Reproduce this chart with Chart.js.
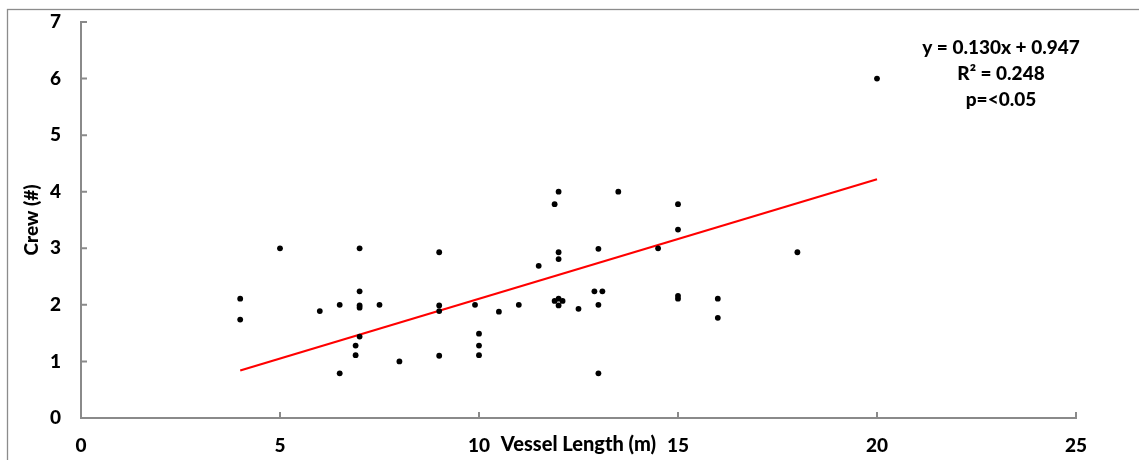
<!DOCTYPE html>
<html>
<head>
<meta charset="utf-8">
<script src="https://cdn.jsdelivr.net/npm/chart.js@4"></script>
<style>
  html, body { margin: 0; padding: 0; background: #fff; overflow: hidden; }
  #wrap { position: relative; width: 1139px; height: 460px; }
</style>
</head>
<body>
<div id="wrap"><canvas id="c" width="1139" height="460"></canvas></div>
<script>
// Vessel length (m)
const vesselLength = [
  4, 4, 5, 6, 6.5, 6.5, 6.9, 6.9, 7, 7, 7, 7, 7, 7.5, 8,
  9, 9, 9, 9, 9.9, 10, 10, 10, 10.5, 11, 11.5,
  11.9, 11.9, 12, 12, 12, 12, 12.1, 12, 12.5,
  12.9, 13.1, 13, 13, 13, 13.5, 14.5,
  15, 15, 15, 15, 16, 16, 18, 20
];
// Crew (#)
const crewCount = [
  2.11, 1.74, 3, 1.89, 2, 0.79, 1.28, 1.11, 3, 2.24, 1.99, 1.95, 1.44, 2, 1,
  2.93, 1.99, 1.89, 1.1, 2, 1.49, 1.28, 1.11, 1.88, 2, 2.69,
  3.78, 2.07, 4, 2.93, 2.81, 2.11, 2.07, 1.99, 1.93,
  2.24, 2.24, 2, 2.99, 0.79, 4, 3,
  3.78, 3.33, 2.16, 2.11, 2.11, 1.77, 2.93, 6
];
// Trendline as drawn
const trendX = [4, 20];
const trendY = [0.84, 4.22];

const xTickValues = [0, 5, 10, 15, 20, 25];
const yTickValues = [0, 1, 2, 3, 4, 5, 6, 7];
const annotationLines = ['y = 0.130x + 0.947', 'R\u00B2 = 0.248', 'p=<0.05'];

const FONT = 'Lato, Carlito, Calibri, sans-serif';
const WEIGHT = '900';
const AXIS_GREY = '#8a8a8a';

const scatterPoints = vesselLength.map((x, i) => ({ x: x, y: crewCount[i] }));
const trendPoints = trendX.map((x, i) => ({ x: x, y: trendY[i] }));

const frame = {
  id: 'frame',
  beforeDraw(chart) {
    const ctx = chart.ctx;
    ctx.save();
    ctx.strokeStyle = '#8c8c8c';
    ctx.lineWidth = 1.3;
    ctx.strokeRect(7.5, 9.5, 3000, 3000);
    ctx.restore();
  }
};

const innerTicks = {
  id: 'innerTicks',
  afterDraw(chart) {
    const ctx = chart.ctx;
    const xs = chart.scales.x, ys = chart.scales.y;
    const area = chart.chartArea;
    ctx.save();
    ctx.strokeStyle = AXIS_GREY;
    ctx.lineWidth = 2;
    ctx.beginPath();
    xTickValues.forEach(v => {
      if (v === 0) return;
      const px = xs.getPixelForValue(v);
      ctx.moveTo(px, area.bottom);
      ctx.lineTo(px, area.bottom - 6);
    });
    yTickValues.forEach(v => {
      if (v === 0) return;
      const py = ys.getPixelForValue(v);
      ctx.moveTo(area.left, py);
      ctx.lineTo(area.left + 6, py);
    });
    ctx.stroke();
    // annotation
    ctx.fillStyle = '#000';
    ctx.font = WEIGHT + ' 19px ' + FONT;
    ctx.textAlign = 'center';
    ctx.textBaseline = 'middle';
    annotationLines.forEach((t, i) => {
      ctx.fillText(t, 1001, 48 + i * 26);
    });
    ctx.restore();
  }
};

const tickFont = { family: FONT, size: 19, weight: WEIGHT };

new Chart(document.getElementById('c'), {
  type: 'scatter',
  data: {
    datasets: [
      {
        type: 'line',
        data: trendPoints,
        borderColor: '#ff0000',
        borderWidth: 2.2,
        pointRadius: 0,
        fill: false,
        order: 2
      },
      {
        data: scatterPoints,
        backgroundColor: '#000',
        borderColor: '#000',
        borderWidth: 0,
        pointRadius: 2.9,
        order: 1
      }
    ]
  },
  options: {
    responsive: false,
    animation: false,
    layout: { padding: { left: 0, right: 63, top: 22, bottom: 0 } },
    plugins: { legend: { display: false }, tooltip: { enabled: false } },
    scales: {
      x: {
        type: 'linear', min: 0, max: 25,
        afterBuildTicks(s) { s.ticks = xTickValues.map(v => ({ value: v })); },
        afterFit(s) { s.height = 42; },
        ticks: { color: '#000', font: tickFont, padding: 16, maxRotation: 0 },
        grid: { display: false, drawTicks: false },
        border: { color: AXIS_GREY, width: 2 },
        title: { display: true, text: 'Vessel Length (m)', color: '#000',
                 font: { family: FONT, size: 20, weight: WEIGHT }, padding: { top: 0, bottom: 3 } }
      },
      y: {
        type: 'linear', min: 0, max: 7,
        afterBuildTicks(s) { s.ticks = yTickValues.map(v => ({ value: v })); },
        afterFit(s) { s.width = 81; s.paddingTop = 10; s.paddingBottom = 10; },
        ticks: { color: '#000', font: tickFont, padding: 20 },
        grid: { display: false, drawTicks: false },
        border: { color: AXIS_GREY, width: 2 },
        title: { display: true, text: 'Crew (#)', color: '#000',
                 font: { family: FONT, size: 19, weight: WEIGHT }, padding: { top: 20, bottom: 0 } }
      }
    }
  },
  plugins: [frame, innerTicks]
});
</script>
</body>
</html>
